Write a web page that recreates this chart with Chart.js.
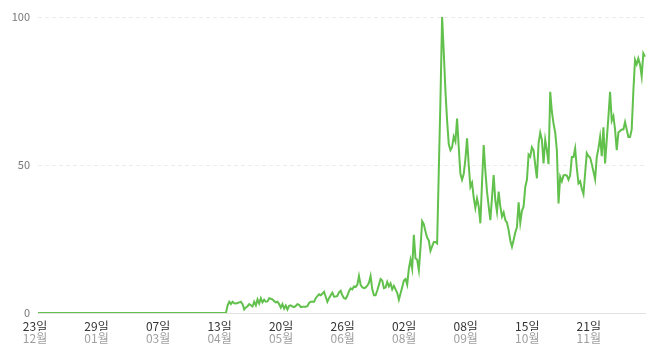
<!DOCTYPE html>
<html>
<head>
<meta charset="utf-8">
<script src="https://cdn.jsdelivr.net/npm/chart.js@4"></script>
<style>
  body { margin: 0; background: #fff; }
  #wrap { width: 658px; height: 354px; position: relative; }
</style>
</head>
<body>
<div id="wrap"><canvas id="trend"></canvas></div>
<script>
// daily index, 2022-12-23 .. 2023-12-23
const startDay = [2022, 11, 23];
const tickEvery = 37;
const tickDays = ["23일", "29일", "07일", "13일", "20일", "26일", "02일", "08일", "15일", "21일"];
const tickMonths = ["12월", "01월", "03월", "04월", "05월", "06월", "08월", "09월", "10월", "11월"];
const yTicks = [0, 50, 100];

const values = [
  0, 0, 0, 0, 0, 0, 0, 0, 0, 0, 0, 0, 0, 0, 0, 0, 0, 0, 0, 0,
  0, 0, 0, 0, 0, 0, 0, 0, 0, 0, 0, 0, 0, 0, 0, 0, 0, 0, 0, 0,
  0, 0, 0, 0, 0, 0, 0, 0, 0, 0, 0, 0, 0, 0, 0, 0, 0, 0, 0, 0,
  0, 0, 0, 0, 0, 0, 0, 0, 0, 0, 0, 0, 0, 0, 0, 0, 0, 0, 0, 0,
  0, 0, 0, 0, 0, 0, 0, 0, 0, 0, 0, 0, 0, 0, 0, 0, 0, 0, 0, 0,
  0, 0, 0, 0, 0, 0, 0, 0, 0, 0, 0, 0, 0, 0,
  // 114
  2.5, 3.8, 3.0, 3.8, 3.3, 3.2, 3.4, 3.6, 3.8, 3.0,
  1.2, 1.9, 2.3, 3.0, 2.6, 2.2, 3.8, 2.6, 4.6, 3.2,
  5.0, 3.6, 4.5, 3.8, 3.9, 5.0, 4.8, 4.6, 4.0, 3.6,
  3.8, 3.0, 1.8, 3.0, 1.5, 2.5, 1.2, 2.4, 2.6, 2.2,
  2.0, 2.4, 3.0, 2.8, 2.0, 2.1, 2.1, 2.1, 2.3, 3.4,
  3.8, 3.8, 3.8, 5.0, 5.7, 6.3, 6.0, 6.5, 7.2, 5.5,
  3.8, 5.0,
  // 176
  6.0, 6.9, 5.5, 5.6, 5.8, 7.0, 7.5, 6.0, 5.0, 4.8,
  5.8, 7.4, 8.3, 8.0, 9.0, 8.8, 9.5, 12.5, 9.5, 8.7,
  8.4, 8.6, 9.2, 10.2, 12.5, 8.0, 6.0, 6.0, 7.6, 9.5,
  11.5, 11.0, 8.4, 8.6, 10.5, 9.0, 10.0, 8.0, 9.2, 8.0,
  6.8, 4.5, 6.6, 8.7, 11.0, 11.5, 9.6, 15.0, 18.0, 15.0,
  26.4, 18.5, 18.0, 14.5, 22.0, 31.0, 30.0, 27.5, 25.5, 24.5,
  21.0, 22.5, 24.0, 24.0, 23.5,
  // 241
  48, 72, 100, 88, 75, 65, 57, 55, 56, 59.6,
  58, 65.7, 56, 47, 45, 47, 52, 59, 50, 42.6,
  44, 39, 35.5, 38.7, 36, 30.3, 44, 56.7, 48, 41,
  36, 31.4, 39, 46.6, 38, 34.2, 41, 36, 32.6, 34,
  31.4, 30.5, 28, 24.5, 22.4, 24.7, 27.2, 29, 37.4, 30.5,
  34.5, 36, 42.6,
  // 294
  45, 53.5, 52.8, 56, 55, 50, 45.5, 57.3, 60.9, 58.5,
  50.5, 58.5, 55, 50.3, 74.7, 68, 64, 61, 55, 37,
  46, 44.5, 46.5, 46.6, 46.4, 45, 46.5, 52.7, 52.7, 55.6,
  48.9, 43.8, 44.5, 42, 40.2, 47.2, 54, 53, 52.5, 50.3,
  47.8, 45.2, 52.7, 55.6, 59.5, 53, 62.7, 50.5, 58.5, 66.3,
  74.7, 65, 66.5, 62, 55, 61, 61.5, 62, 62, 64.5,
  62, 59.5, 59.5, 62, 75, 85.5, 84, 86, 84, 80,
  87.7, 86.6
];

const labels = values.map((v, i) => {
  const d = new Date(startDay[0], startDay[1], startDay[2] + i);
  return d.getFullYear() + "-" + String(d.getMonth() + 1).padStart(2, "0") + "-" + String(d.getDate()).padStart(2, "0");
});

const krFont = "'Noto Sans CJK KR', 'Noto Sans', sans-serif";

new Chart(document.getElementById("trend"), {
  type: "line",
  data: {
    labels: labels,
    datasets: [
      {
        data: values,
        borderColor: "#62c04c",
        borderWidth: 2,
        pointRadius: 0,
        tension: 0,
        fill: false,
      },
    ],
  },
  options: {
    responsive: true,
    maintainAspectRatio: false,
    animation: false,
    layout: { padding: { top: 17, right: 13, left: 0, bottom: 0 } },
    plugins: { legend: { display: false }, tooltip: { enabled: false } },
    scales: {
      x: {
        position: "bottom",
        grid: { display: false, drawTicks: false },
        border: { display: true, color: "#e2e2e2", width: 1 },
        ticks: {
          autoSkip: false,
          maxRotation: 0,
          padding: 6,
          labelOffset: -3,
          color: "#333",
          font: { family: krFont, size: 12 },
          callback: (value, index) => (index % tickEvery === 0 ? tickDays[index / tickEvery] : ""),
        },
        afterFit: (scale) => { scale.height = 18; },
      },
      x2: {
        position: "bottom",
        labels: labels,
        grid: { display: false, drawTicks: false },
        border: { display: false },
        ticks: {
          autoSkip: false,
          maxRotation: 0,
          padding: 0,
          labelOffset: -3,
          color: "#a0a0a0",
          font: { family: krFont, size: 12 },
          callback: (value, index) => (index % tickEvery === 0 ? tickMonths[index / tickEvery] : ""),
        },
        afterFit: (scale) => { scale.height = 23; },
      },
      y: {
        min: 0,
        max: 100,
        afterBuildTicks: (scale) => { scale.ticks = yTicks.map((v) => ({ value: v })); },
        grid: {
          drawTicks: false,
          color: (ctx) => (ctx.tick && ctx.tick.value === 0 ? "rgba(0,0,0,0)" : "#ececec"),
        },
        border: { display: false, dash: [4, 3] },
        ticks: {
          padding: 8,
          color: "#777",
          font: { family: krFont, size: 11 },
        },
        afterFit: (scale) => { scale.width = 38; },
      },
    },
  },
});
</script>
</body>
</html>
